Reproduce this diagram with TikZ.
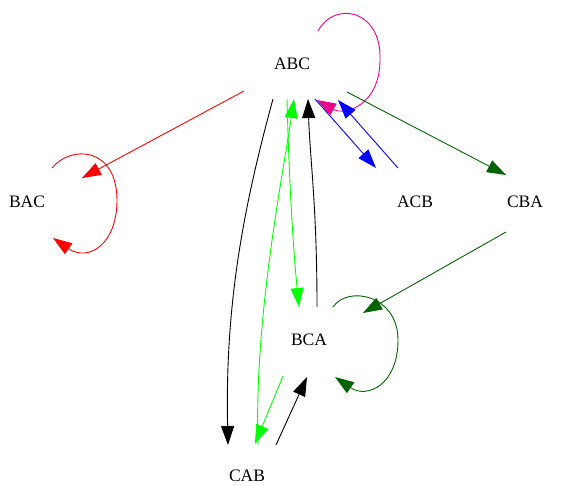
\documentclass[tikz,border=0pt]{standalone}
\usepackage{fontspec}
\setmainfont{Liberation Serif}
\usetikzlibrary{arrows.meta,calc}
\definecolor{dkgreen}{RGB}{0,100,0}
\begin{document}
\begin{tikzpicture}[x=1pt,y=-1pt,
  state/.style={inner sep=0pt, font=\fontsize{17.5}{20}\selectfont},
  edge/.style={line width=0.9pt, -{Triangle[length=19pt,width=13pt]}}]
\useasboundingbox (0,0) rectangle (573,486);

% states
\node[state] (ABC) at (292,64)  {ABC};
\node[state] (BAC) at (27,202)  {BAC};
\node[state] (ACB) at (415,202) {ACB};
\node[state] (CBA) at (525,202) {CBA};
\node[state] (BCA) at (309,340) {BCA};
\node[state] (CAB) at (247,476) {CAB};

% red transitions
\draw[edge, red] ($(ABC)+(-48,27)$) -- ($(BAC)+(55,-24)$);
\draw[edge, red] ($(BAC)+(25,-34)$) .. controls +(20,-24) and +(0,-52) .. ($(BAC)+(90,-2)$)
                 .. controls +(0,45) and +(35,24) .. ($(BAC)+(26,36)$);

% black transitions
\draw[edge, black] ($(ABC)+(-19,35)$) .. controls +(-30,110) and +(-3,-140) .. ($(CAB)+(-19,-31)$);
\draw[edge, black] ($(BCA)+(8,-33)$) .. controls +(0,-100) and +(2,60) .. ($(ABC)+(16,35)$);
\draw[edge, black] ($(CAB)+(29,-31)$) -- ($(BCA)+(-2,37)$);

% green transitions
\draw[edge, green] ($(ABC)+(-5,35)$) .. controls +(2,80) and +(-6,-60) .. ($(BCA)+(-10,-33)$);
\draw[edge, green] ($(CAB)+(11,-31)$) .. controls +(-4,-125) and +(-12,81) .. ($(ABC)+(2,35)$);
\draw[edge, green] ($(BCA)+(-26,36)$) -- ($(CAB)+(8,-32)$);

% magenta self loop
\draw[edge, magenta] ($(ABC)+(26,-33)$) .. controls +(17,-31) and +(2,-50) .. ($(ABC)+(88,-4)$)
                     .. controls +(0,45) and +(28,16) .. ($(ABC)+(25,36)$);

% blue transitions
\draw[edge, blue] ($(ABC)+(23,35)$) -- ($(ACB)+(-39,-34)$);
\draw[edge, blue] ($(ACB)+(-17,-34)$) -- ($(ABC)+(46,36)$);

% dark green transitions
\draw[edge, dkgreen] ($(ABC)+(55,28)$) -- ($(CBA)+(-19,-27)$);
\draw[edge, dkgreen] ($(CBA)+(-19,30)$) -- ($(BCA)+(54,-27)$);
\draw[edge, dkgreen] ($(BCA)+(24,-33)$) .. controls +(15,-22) and +(0,-45) .. ($(BCA)+(89,0)$)
                     .. controls +(0,45) and +(32,22) .. ($(BCA)+(26,37)$);
\end{tikzpicture}
\end{document}
